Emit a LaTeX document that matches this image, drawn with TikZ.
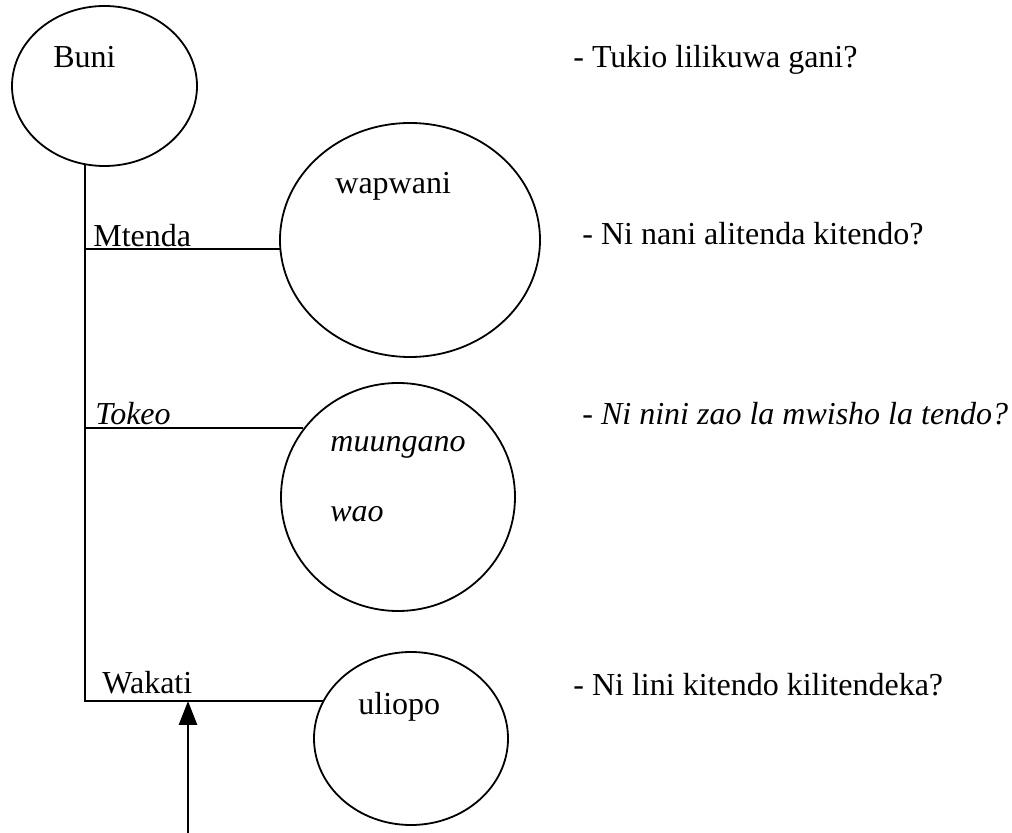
\documentclass[tikz,border=0pt]{standalone}
\usepackage{fontspec}
\setmainfont{Liberation Serif}
\usetikzlibrary{shapes.geometric, arrows.meta}

\begin{document}
\begin{tikzpicture}[x=0.5pt,y=-0.5pt,
  bubble/.style={draw, ellipse, line width=0.9pt, inner sep=0pt},
  lbl/.style={anchor=base west, inner sep=0pt},
  font=\fontsize{16}{19}\selectfont]
\useasboundingbox (0,0) rectangle (1012,833);
\color{black}

% les bulles
\node[bubble, minimum width=92.5pt, minimum height=80pt] (buni) at (104.5,86) {};
\node[bubble, minimum width=130pt, minimum height=117pt] (wapwani) at (410,240) {};
\node[bubble, minimum width=117pt, minimum height=114pt] (muungano) at (398,497) {};
\node[bubble, minimum width=97pt, minimum height=86.5pt] (uliopo) at (411,738.5) {};

% les textes dans les bulles
\node[lbl] (bunitxt) at (53,68) {Buni};
\node[lbl] (wapwanitxt) at (335,194) {wapwani};
\node[lbl] (muunganotxt) at (330,452) {\itshape muungano};
\node[lbl] (waotxt) at (330,522) {\itshape wao};
\node[lbl] (uliopotxt) at (358,714) {uliopo};

% le tronc et les branches
\draw[line width=0.9pt] (buni.256) |- (uliopo.157.5);
\draw[line width=0.9pt] (wapwani.184) -- (wapwani.184 -| buni.256);
\draw[line width=0.9pt] (muungano.144.7) -- (muungano.144.7 -| buni.256);

\node[lbl] (mtenda) at (93,247) {Mtenda};
\node[lbl] (tokeo) at (95,425) {\itshape Tokeo};
\node[lbl] (wakati) at (102,693) {Wakati};

% la fleche
\coordinate (arrowfoot) at (188,833);
\draw[line width=1.4pt, -{Triangle[width=9pt,length=12pt]}] (arrowfoot) -- (arrowfoot |- uliopo.157.5);

% les questions
\node[lbl] (q1) at (573,68) {- Tukio lilikuwa gani?};
\node[lbl] (q2) at (582,245) {- Ni nani alitenda kitendo?};
\node[lbl] (q3) at (582,425) {\itshape - Ni nini zao la mwisho la tendo?};
\node[lbl] (q4) at (573,696) {- Ni lini kitendo kilitendeka?};
\end{tikzpicture}
\end{document}
